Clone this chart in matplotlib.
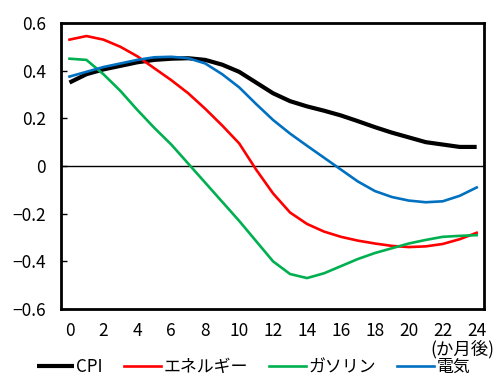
import numpy as np
import matplotlib
matplotlib.use("Agg")
import matplotlib.pyplot as plt

plt.rcParams['font.family'] = ['Noto Sans CJK JP', 'DejaVu Sans']

# months after the shock
months = np.arange(0, 25)

cpi = [0.35, 0.385, 0.405, 0.42, 0.435, 0.445, 0.45, 0.452, 0.445, 0.425,
       0.395, 0.35, 0.305, 0.272, 0.25, 0.232, 0.212, 0.188, 0.163, 0.14,
       0.12, 0.10, 0.09, 0.08, 0.08]
energy = [0.53, 0.545, 0.53, 0.50, 0.46, 0.41, 0.36, 0.305, 0.24, 0.17,
          0.095, -0.015, -0.115, -0.195, -0.243, -0.275, -0.297, -0.313, -0.325, -0.335,
          -0.34, -0.337, -0.327, -0.307, -0.28]
gasoline = [0.45, 0.445, 0.385, 0.315, 0.235, 0.16, 0.09, 0.01, -0.07, -0.15,
            -0.23, -0.315, -0.40, -0.453, -0.47, -0.45, -0.42, -0.39, -0.365, -0.345,
            -0.325, -0.31, -0.297, -0.293, -0.29]
electricity = [0.375, 0.395, 0.415, 0.43, 0.445, 0.456, 0.458, 0.452, 0.43, 0.385,
               0.33, 0.26, 0.193, 0.136, 0.085, 0.035, -0.015, -0.065, -0.105, -0.13,
               -0.145, -0.152, -0.148, -0.125, -0.09]

labels = ["CPI", "エネルギー", "ガソリン", "電気"]
xticks = np.arange(0, 25, 2)
yticks = np.round(np.arange(-0.6, 0.61, 0.2), 1)

fig = plt.figure(figsize=(4.98, 3.76), dpi=100)
ax = fig.add_axes([0.1225, 0.178, 0.85, 0.761])

ax.axhline(0, color="black", lw=1.0, zorder=1)
ax.plot(months, cpi, color="black", lw=3.0, label=labels[0], solid_capstyle="butt")
ax.plot(months, energy, color="#FF0000", lw=1.9, label=labels[1])
ax.plot(months, gasoline, color="#00B050", lw=1.9, label=labels[2])
ax.plot(months, electricity, color="#0070C0", lw=1.9, label=labels[3])

ax.set_xlim(-0.5, 24.45)
ax.set_ylim(-0.6, 0.6)
ax.set_xticks(xticks)
ax.set_yticks(yticks)
ax.set_yticklabels(["0" if v == 0 else f"{v:.1f}".replace("-", "\u2212") for v in yticks])
ax.tick_params(axis="x", length=0, pad=9, labelsize=12.5)
ax.tick_params(axis="y", direction="in", length=4, width=1, pad=11, labelsize=12.5)
for s in ax.spines.values():
    s.set_linewidth(2.0)

fig.text(0.993, 0.047, "(か月後)", ha="right", va="bottom", fontsize=12.5)

ax.legend(loc="upper center", bbox_to_anchor=(0.455, -0.172), ncol=4, frameon=False,
          fontsize=12.2, handlelength=2.2, handletextpad=0.12, columnspacing=1.25,
          borderaxespad=0, borderpad=0)

fig.savefig("out.png", dpi=100)
